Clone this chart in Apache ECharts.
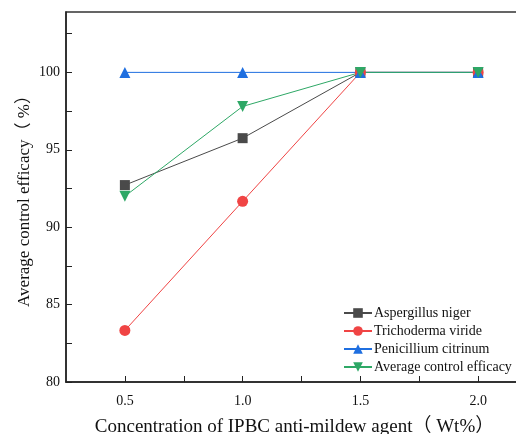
<!DOCTYPE html>
<html><head><meta charset="utf-8">
<script src="https://cdn.jsdelivr.net/npm/echarts@6/dist/echarts.min.js"></script>
<style>html,body{margin:0;padding:0;background:#fff}#c{width:516px;height:434px}</style>
</head><body><div id="c"></div>
<script>
const concentrations = [0.5, 1.0, 1.5, 2.0];
const aspergillusNiger = [92.72, 95.75, 100, 100];
const trichodermaViride = [83.33, 91.67, 100, 100];
const penicilliumCitrinum = [100, 100, 100, 100];
const averageEfficacy = [92.0, 97.8, 100, 100];
const xTicks = [0.5, 1.0, 1.5, 2.0];
const yTicks = [80, 85, 90, 95, 100];
const seriesNames = ['Aspergillus niger', 'Trichoderma viride', 'Penicillium citrinum', 'Average control efficacy'];

const serif = '"Liberation Serif","Times New Roman","Noto Sans CJK SC",serif';
const pair = arr => concentrations.map((x, i) => [x, arr[i]]);
const chart = echarts.init(document.getElementById('c'), null, {renderer: 'canvas'});
const mk = (name, data, color, symbol, size, rot) => ({
  name, type: 'line', data: pair(data), symbol, symbolSize: size, symbolRotate: rot || 0,
  lineStyle: {color, width: 1}, itemStyle: {color}, z: 2
});
chart.setOption({
  animation: false,
  backgroundColor: '#fff',
  grid: {left: 66, top: 12, width: 471, height: 370, outerBoundsMode: 'none', containLabel: false,
         show: true, borderColor: '#333', borderWidth: 1.5, backgroundColor: 'transparent'},
  xAxis: {
    type: 'value', min: 0.25, max: 2.25,
    name: 'Concentration of IPBC anti-mildew agent（ Wt%）',
    nameLocation: 'middle', nameGap: 36, nameMoveOverlap: false,
    nameTextStyle: {fontFamily: serif, fontSize: 19, color: '#111', padding: [0, 14, 0, 0]},
    axisLine: {show: true, lineStyle: {color: '#222', width: 1.5}},
    axisTick: {show: true, inside: true, length: 6, customValues: [0.5, 0.75, 1.0, 1.25, 1.5, 1.75, 2.0], lineStyle: {color: '#222', width: 1}},
    axisLabel: {customValues: xTicks, formatter: v => v.toFixed(1), fontFamily: serif, fontSize: 14, color: '#111', margin: 12},
    splitLine: {show: false}
  },
  yAxis: {
    type: 'value', min: 80, max: 103.9,
    name: 'Average control efficacy（ %）',
    nameLocation: 'middle', nameGap: 33, nameRotate: 90, nameMoveOverlap: false,
    nameTextStyle: {fontFamily: serif, fontSize: 17, color: '#111'},
    axisLine: {show: true, lineStyle: {color: '#222', width: 1.5}},
    axisTick: {show: true, inside: true, length: 6, customValues: [80, 82.5, 85, 87.5, 90, 92.5, 95, 97.5, 100, 102.5], lineStyle: {color: '#222', width: 1}},
    axisLabel: {customValues: yTicks, fontFamily: serif, fontSize: 14, color: '#111', margin: 6},
    splitLine: {show: false}
  },
  legend: {
    orient: 'vertical', left: 338, top: 301, itemGap: 4,
    itemWidth: 28, itemHeight: 12,
    textStyle: {fontFamily: serif, fontSize: 14, color: '#111', padding: [0,0,0,-3]},
    data: seriesNames
  },
  series: [
    mk(seriesNames[0], aspergillusNiger, '#4a4a4a', 'rect', 10),
    mk(seriesNames[1], trichodermaViride, '#f04444', 'circle', 11),
    mk(seriesNames[2], penicilliumCitrinum, '#1f6fe0', 'triangle', 11),
    mk(seriesNames[3], averageEfficacy, '#2ea866', 'triangle', 11, 180)
  ]
});
</script></body></html>
